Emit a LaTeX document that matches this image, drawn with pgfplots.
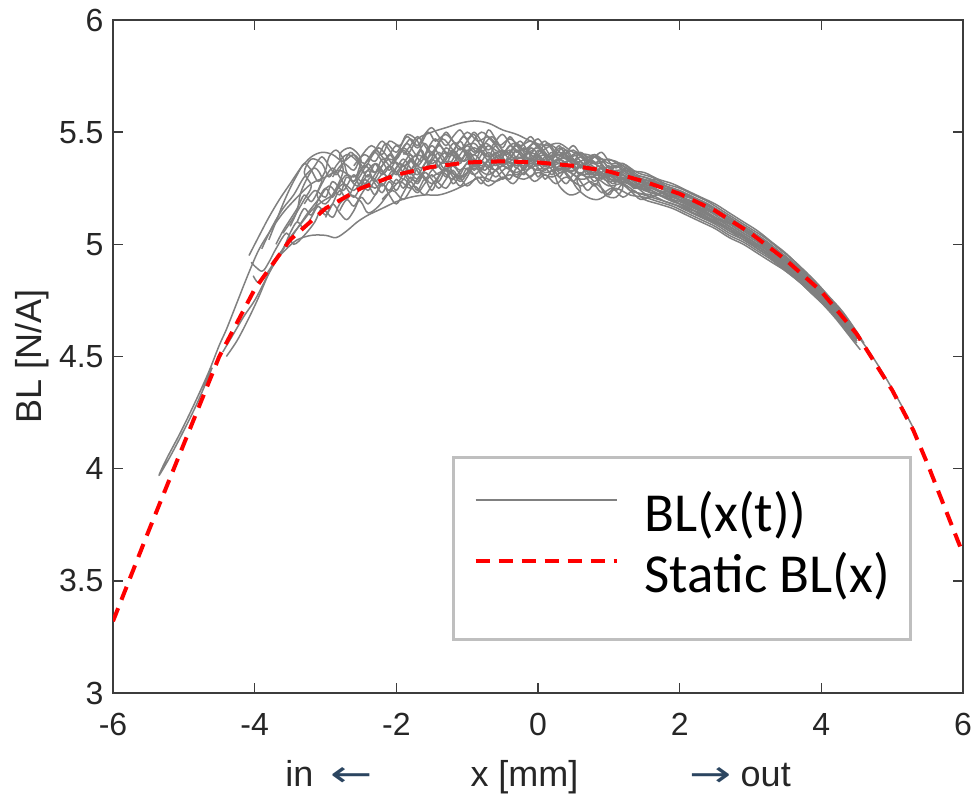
\documentclass[border=0pt]{standalone}
\usepackage{pgfplots}
\pgfplotsset{compat=1.18}
\usepackage{graphicx}
\usepackage{fontspec}
\setmainfont{Liberation Sans}
\newfontfamily\carlito{Carlito}
\newfontfamily\dejavu{DejaVu Sans}
\definecolor{arrowc}{HTML}{2B4560}
\definecolor{axc}{HTML}{3C3C3C}
\tikzset{gr/.style={color=black!50, line width=0.75pt, line join=round, smooth, tension=0.55}}
\newcommand{\arr}[1]{{\dejavu\color{arrowc}\scalebox{1.4}[1]{#1}}}

\begin{document}
\begin{tikzpicture}
\useasboundingbox (-56.5pt,-51pt) rectangle (429.5pt,346.5pt);
\begin{axis}[
  scale only axis,
  width=425pt, height=336.5pt,
  xmin=-6, xmax=6, ymin=3, ymax=6,
  xtick={-6,-4,...,6},
  ytick={3,3.5,...,6},
  tick align=inside,
  major tick length=5pt,
  axis line style={axc, line width=0.8pt},
  every tick/.style={axc, line width=0.8pt},
  /pgf/number format/assume math mode=true,
  tick label style={font=\fontsize{16}{18}\selectfont, text=black!85},
  xticklabel style={yshift=-6.7pt},
  yticklabel style={xshift=-1.2pt},
  xlabel={in\hspace{8.5pt}\arr{←}\hspace{49pt}x [mm]\hspace{55.5pt}\arr{→}\hspace{4.5pt}out},
  xlabel style={font=\fontsize{18}{20}\selectfont, text=black!85,
    at={(axis description cs:0.5,0)}, anchor=base, yshift=-47pt},
  ylabel={BL [N/A]},
  ylabel style={font=\fontsize{18}{20}\selectfont, text=black!85,
    at={(axis description cs:-0.0953,0.5)}, anchor=center},
  legend style={at={(rel axis cs:0.399,0.352)}, anchor=north west,
    draw=black!25, line width=1.5pt, fill=white,
    inner xsep=10pt, inner ysep=15pt,
    font=\carlito\fontsize{27.5}{30}\selectfont,
    column sep=13pt,
    nodes={inner sep=0pt, text height=22pt, text depth=8.5pt}},
  legend cell align=left,
  legend image code/.code={\draw[#1] (0pt,9pt) -- (70.5pt,9pt);},
]

% measured BL(x(t)) traces
\addplot[gr] coordinates {(-4.6,4.45)(-4.8,4.30)(-5.0,4.17)(-5.2,4.05)(-5.35,3.97)(-5.25,4.04)(-5.05,4.16)(-4.85,4.29)(-4.65,4.43)(-4.5,4.55)(-4.4,4.62)(-4.25,4.74)(-4.1,4.86)(-3.95,4.97)(-3.8,5.05)(-3.6,5.14)(-3.4,5.21)(-3.2,5.27)(-3.0,5.30)(-2.8,5.33)(-2.6,5.30)(-2.45,5.35)(-2.3,5.32)(-2.1,5.38)(-1.9,5.35)(-1.7,5.40)(-1.5,5.36)(-1.3,5.41)(-1.1,5.38)(-0.9,5.43)(-0.7,5.39)(-0.5,5.42)(-0.3,5.38)(-0.1,5.41)(0.1,5.37)(0.3,5.40)(0.5,5.36)(0.7,5.38)(0.9,5.34)(1.1,5.35)(1.3,5.31)(1.5,5.30)(1.7,5.27)(1.9,5.25)(2.1,5.22)(2.3,5.19)(2.5,5.16)(2.7,5.12)(2.9,5.08)(3.1,5.04)(3.3,4.99)(3.5,4.94)(3.7,4.89)(3.9,4.83)(4.1,4.76)(4.3,4.69)(4.5,4.60)(4.7,4.51)(4.9,4.41)(5.1,4.30)(5.3,4.18)};
\addlegendentry{BL(x(t))}
\addplot[gr, forget plot] coordinates {(-4.08,4.95)(-3.95,5.03)(-3.8,5.12)(-3.65,5.20)(-3.5,5.27)(-3.35,5.34)(-3.2,5.39)(-3.05,5.41)(-2.9,5.40)(-2.75,5.37)(-2.6,5.40)(-2.45,5.36)(-2.3,5.42)(-2.15,5.38)(-2.0,5.44)(-1.85,5.40)(-1.7,5.47)(-1.5,5.50)(-1.3,5.52)(-1.1,5.54)(-0.9,5.55)(-0.7,5.54)(-0.5,5.51)(-0.3,5.49)(-0.1,5.46)(0.1,5.44)(0.3,5.45)(0.5,5.41)(0.7,5.40)(0.9,5.38)(1.1,5.37)(1.3,5.33)(1.5,5.32)(1.7,5.29)(1.9,5.27)(2.1,5.24)(2.3,5.21)(2.5,5.18)(2.7,5.14)(2.9,5.10)(3.1,5.06)(3.3,5.01)(3.5,4.96)(3.7,4.90)(3.9,4.84)(4.1,4.77)(4.3,4.70)(4.5,4.61)(4.6,4.56)};
\addplot[gr, forget plot] coordinates {(-4.02,4.86)(-3.95,4.83)(-3.85,4.86)(-3.7,4.93)(-3.55,4.98)(-3.4,5.02)(-3.2,5.04)(-3.0,5.04)(-2.85,5.03)(-2.7,5.06)(-2.55,5.10)(-2.4,5.13)(-2.2,5.16)(-2.0,5.19)(-1.8,5.21)(-1.6,5.22)(-1.4,5.22)(-1.2,5.24)(-1.0,5.27)(-0.8,5.30)(-0.6,5.28)(-0.4,5.31)(-0.2,5.29)(0.0,5.32)(0.2,5.30)(0.4,5.33)(0.6,5.29)(0.8,5.30)(1.0,5.26)(1.2,5.27)(1.4,5.23)(1.6,5.22)(1.8,5.19)(2.0,5.17)(2.2,5.14)(2.4,5.11)(2.6,5.08)(2.8,5.04)(3.0,5.00)(3.2,4.96)(3.4,4.91)(3.6,4.86)(3.8,4.80)(4.0,4.74)(4.2,4.67)(4.4,4.59)(4.55,4.53)};
\addplot[gr, forget plot] coordinates {(-4.45,4.52)(-4.3,4.60)(-4.15,4.68)(-4.0,4.75)(-3.85,4.84)(-3.7,4.93)(-3.55,5.00)(-3.4,5.07)(-3.25,5.14)(-3.1,5.20)(-2.95,5.26)(-2.8,5.22)(-2.7,5.30)(-2.55,5.26)(-2.4,5.33)(-2.3,5.28)(-2.1,5.35)(-1.95,5.31)(-1.8,5.38)(-1.65,5.34)(-1.5,5.40)(-1.35,5.36)(-1.2,5.42)(-1.05,5.37)(-0.9,5.40)(-0.75,5.36)(-0.6,5.41)(-0.45,5.37)(-0.3,5.42)(-0.15,5.38)(0.0,5.40)(0.15,5.35)(0.3,5.38)(0.45,5.34)(0.6,5.37)(0.75,5.32)(0.9,5.34)(1.05,5.30)(1.2,5.31)(1.4,5.27)(1.6,5.26)(1.8,5.22)(2.0,5.21)(2.2,5.17)(2.4,5.15)(2.6,5.11)(2.8,5.08)(3.0,5.04)(3.2,5.00)(3.4,4.95)(3.6,4.90)(3.8,4.84)(4.0,4.78)(4.2,4.71)(4.4,4.63)(4.5,4.58)};
\addplot[gr, forget plot] coordinates {(-3.9,4.98)(-3.75,5.08)(-3.6,5.16)(-3.45,5.22)(-3.3,5.30)(-3.15,5.34)(-3.05,5.29)(-3.12,5.22)(-3.0,5.18)(-2.85,5.25)(-2.75,5.33)(-2.8,5.40)(-2.65,5.43)(-2.5,5.38)(-2.55,5.30)(-2.4,5.27)(-2.25,5.33)(-2.1,5.30)(-1.95,5.36)(-1.8,5.33)(-1.65,5.42)(-1.55,5.36)(-1.4,5.44)(-1.25,5.39)(-1.1,5.46)(-1.0,5.40)(-0.85,5.35)(-0.7,5.41)(-0.55,5.37)(-0.4,5.44)(-0.25,5.40)(-0.1,5.36)(0.05,5.41)(0.2,5.38)(0.35,5.43)(0.5,5.37)(0.65,5.35)(0.8,5.39)(0.95,5.33)(1.1,5.31)(1.25,5.34)(1.4,5.28)(1.6,5.27)(1.8,5.24)(2.0,5.21)(2.2,5.19)(2.4,5.15)(2.6,5.12)(2.8,5.07)(3.0,5.03)(3.2,4.99)(3.4,4.93)(3.6,4.88)(3.8,4.82)(4.0,4.76)(4.2,4.69)(4.4,4.61)(4.5,4.57)};
\addplot[gr, forget plot] coordinates {(-3.3,5.18)(-3.15,5.24)(-3.0,5.21)(-2.9,5.28)(-2.75,5.24)(-2.6,5.31)(-2.5,5.25)(-2.35,5.30)(-2.2,5.26)(-2.05,5.33)(-1.9,5.29)(-1.8,5.37)(-1.65,5.31)(-1.5,5.38)(-1.35,5.33)(-1.2,5.35)(-1.05,5.30)(-0.9,5.36)(-0.75,5.33)(-0.6,5.39)(-0.45,5.34)(-0.3,5.36)(-0.15,5.33)(0.0,5.38)(0.15,5.34)(0.3,5.36)(0.45,5.32)(0.6,5.35)(0.75,5.31)(0.9,5.32)(1.05,5.27)(1.2,5.30)(1.35,5.25)(1.5,5.26)(1.7,5.22)(1.9,5.21)(2.1,5.18)(2.3,5.15)(2.5,5.12)(2.7,5.09)(2.9,5.05)(3.1,5.01)(3.3,4.96)(3.5,4.92)(3.7,4.86)(3.9,4.80)(4.1,4.73)(4.3,4.66)(4.45,4.59)};
\addplot[gr, forget plot] coordinates {(-2.6,5.35)(-2.45,5.40)(-2.3,5.37)(-2.15,5.45)(-2.0,5.41)(-1.85,5.48)(-1.7,5.43)(-1.55,5.50)(-1.45,5.46)(-1.3,5.49)(-1.15,5.45)(-1.0,5.50)(-0.85,5.46)(-0.7,5.48)(-0.55,5.44)(-0.4,5.47)(-0.25,5.44)(-0.1,5.46)(0.05,5.42)(0.2,5.44)(0.35,5.40)(0.5,5.42)(0.65,5.38)(0.8,5.40)(1.0,5.36)(1.2,5.36)(1.4,5.32)(1.6,5.30)(1.8,5.27)(2.0,5.25)(2.2,5.22)(2.4,5.19)(2.6,5.15)(2.8,5.11)(3.0,5.07)(3.2,5.03)(3.4,4.98)(3.6,4.93)(3.8,4.87)(4.0,4.80)(4.2,4.73)(4.4,4.65)(4.55,4.58)};
\addplot[gr, forget plot] coordinates {(-2.2,5.20)(-2.05,5.24)(-1.9,5.20)(-1.75,5.26)(-1.6,5.22)(-1.45,5.28)(-1.3,5.25)(-1.15,5.31)(-1.0,5.26)(-0.85,5.30)(-0.7,5.26)(-0.5,5.30)(-0.35,5.27)(-0.2,5.32)(-0.05,5.28)(0.1,5.31)(0.25,5.27)(0.4,5.30)(0.6,5.26)(0.75,5.28)(0.9,5.23)(1.05,5.25)(1.2,5.21)(1.35,5.24)(1.5,5.20)(1.7,5.18)(1.9,5.16)(2.1,5.13)(2.3,5.10)(2.5,5.07)(2.7,5.03)(2.9,5.00)(3.1,4.96)(3.3,4.92)(3.5,4.88)(3.7,4.83)(3.9,4.78)(4.1,4.72)(4.3,4.65)(4.5,4.57)};
\addplot[gr, forget plot] coordinates {(-1.0,5.33)(-0.8,5.37)(-0.6,5.33)(-0.4,5.38)(-0.2,5.35)(0.0,5.39)(0.2,5.33)(0.3,5.26)(0.45,5.22)(0.6,5.24)(0.55,5.29)(0.7,5.33)(0.85,5.28)(0.95,5.22)(1.1,5.21)(1.2,5.26)(1.05,5.30)(1.25,5.33)(1.4,5.30)(1.55,5.27)(1.75,5.25)(1.95,5.22)(2.15,5.19)(2.35,5.17)(2.55,5.13)(2.75,5.10)(2.95,5.06)(3.15,5.02)(3.35,4.98)(3.55,4.93)(3.75,4.88)(3.95,4.82)(4.15,4.75)(4.35,4.67)(4.5,4.60)};
\addplot[gr, forget plot] coordinates {(-2.9,5.30)(-2.75,5.36)(-2.6,5.33)(-2.5,5.39)(-2.35,5.44)(-2.2,5.40)(-2.1,5.46)(-1.95,5.44)(-1.85,5.49)(-1.7,5.46)(-1.6,5.38)(-1.45,5.34)(-1.3,5.39)(-1.2,5.45)(-1.05,5.42)(-0.9,5.40)(-0.75,5.45)(-0.6,5.42)(-0.45,5.40)(-0.3,5.44)(-0.15,5.41)(0.0,5.43)(0.15,5.39)(0.3,5.41)(0.45,5.39)(0.6,5.40)(0.75,5.36)(0.9,5.37)(1.05,5.33)(1.2,5.33)(1.4,5.29)(1.6,5.28)(1.8,5.25)(2.0,5.22)(2.2,5.20)(2.4,5.16)(2.6,5.13)(2.8,5.09)(3.0,5.05)(3.2,5.00)(3.4,4.96)(3.6,4.90)(3.8,4.84)(4.0,4.78)(4.2,4.71)(4.4,4.63)(4.5,4.59)};
\addplot[gr, forget plot] coordinates {(-3.6,5.05)(-3.45,5.12)(-3.3,5.20)(-3.2,5.26)(-3.3,5.32)(-3.2,5.38)(-3.05,5.36)(-2.95,5.30)(-2.85,5.35)(-2.7,5.40)(-2.55,5.37)(-2.45,5.32)(-2.3,5.36)(-2.2,5.31)(-2.05,5.37)(-1.9,5.43)(-1.75,5.39)(-1.6,5.45)(-1.5,5.41)(-1.35,5.47)(-1.2,5.42)(-1.05,5.37)(-0.95,5.44)(-0.8,5.50)(-0.65,5.46)(-0.5,5.41)(-0.35,5.45)(-0.2,5.42)(-0.05,5.45)(0.1,5.40)(0.25,5.37)(0.4,5.39)(0.55,5.34)(0.7,5.37)(0.85,5.35)(1.0,5.31)(1.2,5.32)(1.4,5.27)(1.6,5.25)(1.8,5.23)(2.0,5.20)(2.2,5.17)(2.4,5.14)(2.6,5.10)(2.8,5.06)(3.0,5.02)(3.2,4.97)(3.4,4.94)(3.6,4.89)(3.8,4.83)(4.0,4.77)(4.2,4.70)(4.4,4.62)};
\addplot[gr, forget plot] coordinates {(-4.05,4.92)(-3.9,4.88)(-3.8,4.92)(-3.7,4.98)(-3.55,5.05)(-3.45,5.00)(-3.3,5.04)(-3.15,5.10)(-3.05,5.16)(-2.9,5.12)(-2.8,5.18)(-2.65,5.22)(-2.5,5.19)(-2.4,5.14)(-2.25,5.17)(-2.1,5.23)(-1.95,5.28)(-1.8,5.25)(-1.65,5.31)(-1.5,5.27)(-1.35,5.32)(-1.2,5.29)(-1.05,5.34)(-0.9,5.31)(-0.75,5.35)(-0.6,5.30)(-0.45,5.34)(-0.3,5.31)(-0.15,5.35)(0.0,5.33)(0.15,5.36)(0.3,5.33)(0.45,5.35)(0.6,5.31)(0.8,5.32)(1.0,5.29)(1.2,5.28)(1.4,5.25)(1.6,5.24)(1.8,5.21)(2.0,5.19)(2.2,5.16)(2.4,5.13)(2.6,5.09)(2.8,5.05)(3.0,5.02)(3.2,4.98)(3.4,4.93)(3.6,4.87)(3.8,4.81)(4.0,4.75)(4.2,4.68)(4.4,4.60)(4.5,4.56)};
\addplot[gr, forget plot] coordinates {(-4.4,4.50)(-4.25,4.57)(-4.1,4.66)(-3.95,4.76)(-3.8,4.87)(-3.65,4.95)(-3.5,5.03)(-3.35,5.09)(-3.2,5.15)(-3.05,5.19)(-2.9,5.22)(-2.75,5.27)(-2.6,5.24)(-2.45,5.29)(-2.3,5.25)(-2.15,5.30)(-2.0,5.27)(-1.85,5.33)(-1.7,5.29)(-1.55,5.35)(-1.4,5.31)(-1.25,5.37)(-1.1,5.33)(-0.95,5.38)(-0.8,5.35)(-0.6,5.40)(-0.45,5.36)(-0.3,5.39)(-0.1,5.37)(0.1,5.40)(0.3,5.36)(0.5,5.38)(0.7,5.33)(0.9,5.35)(1.1,5.30)(1.3,5.29)(1.5,5.27)(1.7,5.24)(1.9,5.23)(2.1,5.20)(2.3,5.17)(2.5,5.14)(2.7,5.11)(2.9,5.07)(3.1,5.03)(3.3,4.98)(3.5,4.92)(3.7,4.87)(3.9,4.81)(4.1,4.74)(4.3,4.67)(4.5,4.58)};
\addplot[gr, forget plot] coordinates {(-3.4,5.10)(-3.3,5.16)(-3.2,5.13)(-3.1,5.20)(-3.0,5.25)(-2.9,5.21)(-2.8,5.27)(-2.7,5.31)(-2.6,5.28)(-2.5,5.33)(-2.4,5.30)(-2.3,5.36)(-2.2,5.33)(-2.1,5.29)(-2.0,5.34)(-1.9,5.38)(-1.8,5.34)(-1.7,5.31)(-1.6,5.36)(-1.5,5.41)(-1.4,5.37)(-1.3,5.33)(-1.2,5.38)(-1.1,5.43)(-1.0,5.39)(-0.9,5.35)(-0.8,5.40)(-0.7,5.44)(-0.6,5.40)(-0.5,5.36)(-0.4,5.40)(-0.3,5.45)(-0.2,5.41)(-0.1,5.37)(0.0,5.42)(0.1,5.39)(0.2,5.35)(0.3,5.39)(0.4,5.42)(0.5,5.38)(0.6,5.34)(0.7,5.37)(0.8,5.40)(0.9,5.36)(1.0,5.32)(1.1,5.35)(1.2,5.33)(1.4,5.29)(1.6,5.27)(1.8,5.24)(2.0,5.22)(2.2,5.18)(2.4,5.16)(2.6,5.12)(2.8,5.08)(3.0,5.04)(3.2,5.00)(3.4,4.95)(3.6,4.89)(3.8,4.84)(4.0,4.77)(4.2,4.70)(4.45,4.60)};
\addplot[gr, forget plot] coordinates {(-2.8,5.15)(-2.7,5.20)(-2.6,5.17)(-2.5,5.22)(-2.4,5.26)(-2.3,5.22)(-2.2,5.27)(-2.1,5.24)(-2.0,5.29)(-1.9,5.25)(-1.8,5.30)(-1.7,5.27)(-1.6,5.32)(-1.5,5.29)(-1.4,5.25)(-1.3,5.29)(-1.2,5.33)(-1.1,5.29)(-1.0,5.34)(-0.9,5.31)(-0.8,5.27)(-0.7,5.32)(-0.6,5.36)(-0.5,5.32)(-0.4,5.29)(-0.3,5.34)(-0.2,5.31)(-0.1,5.35)(0.0,5.30)(0.1,5.34)(0.2,5.31)(0.3,5.35)(0.4,5.31)(0.5,5.28)(0.6,5.32)(0.7,5.29)(0.8,5.26)(0.9,5.30)(1.0,5.27)(1.1,5.24)(1.2,5.27)(1.3,5.24)(1.5,5.22)(1.7,5.20)(1.9,5.18)(2.1,5.15)(2.3,5.12)(2.5,5.09)(2.7,5.05)(2.9,5.02)(3.1,4.98)(3.3,4.94)(3.5,4.89)(3.7,4.85)(3.9,4.79)(4.1,4.73)(4.3,4.66)(4.5,4.58)};
\addplot[gr, forget plot] coordinates {(-2.4,5.37)(-2.3,5.42)(-2.2,5.46)(-2.1,5.42)(-2.0,5.38)(-1.9,5.43)(-1.8,5.47)(-1.7,5.44)(-1.6,5.49)(-1.5,5.52)(-1.4,5.48)(-1.3,5.44)(-1.2,5.48)(-1.1,5.51)(-1.0,5.47)(-0.9,5.50)(-0.8,5.46)(-0.7,5.42)(-0.6,5.46)(-0.5,5.49)(-0.4,5.45)(-0.3,5.41)(-0.2,5.45)(-0.1,5.48)(0.0,5.44)(0.1,5.46)(0.2,5.42)(0.3,5.38)(0.4,5.41)(0.5,5.44)(0.6,5.40)(0.7,5.37)(0.8,5.39)(0.9,5.41)(1.0,5.37)(1.1,5.34)(1.2,5.36)(1.4,5.31)(1.6,5.29)(1.8,5.26)(2.0,5.24)(2.2,5.21)(2.4,5.18)(2.6,5.14)(2.8,5.10)(3.0,5.06)(3.2,5.02)(3.4,4.97)(3.6,4.92)(3.8,4.86)(4.0,4.79)(4.2,4.72)(4.4,4.64)};
\addplot[gr, forget plot] coordinates {(-2.0,5.32)(-1.9,5.36)(-1.8,5.40)(-1.75,5.35)(-1.85,5.31)(-1.7,5.28)(-1.6,5.33)(-1.5,5.37)(-1.4,5.41)(-1.3,5.37)(-1.2,5.32)(-1.1,5.28)(-1.0,5.32)(-0.95,5.38)(-1.05,5.43)(-0.9,5.45)(-0.8,5.41)(-0.7,5.37)(-0.6,5.33)(-0.5,5.38)(-0.4,5.34)(-0.3,5.30)(-0.2,5.35)(-0.1,5.40)(0.0,5.44)(0.1,5.41)(0.2,5.37)(0.3,5.33)(0.4,5.36)(0.5,5.40)(0.6,5.37)(0.7,5.32)(0.8,5.28)(0.9,5.32)(1.0,5.35)(1.1,5.31)(1.2,5.28)(1.3,5.31)(1.4,5.27)(1.6,5.25)(1.8,5.22)(2.0,5.20)(2.2,5.17)(2.4,5.13)(2.6,5.10)(2.8,5.06)(3.0,5.01)(3.2,4.97)(3.4,4.92)(3.6,4.88)(3.8,4.82)(4.0,4.76)(4.2,4.69)(4.4,4.61)};
\addplot[gr, forget plot] coordinates {(-3.7,5.00)(-3.6,5.06)(-3.5,5.11)(-3.4,5.16)(-3.3,5.22)(-3.2,5.19)(-3.1,5.24)(-3.0,5.30)(-2.9,5.34)(-2.8,5.30)(-2.7,5.25)(-2.6,5.21)(-2.5,5.26)(-2.4,5.31)(-2.3,5.27)(-2.2,5.23)(-2.1,5.28)(-2.0,5.24)(-1.9,5.29)(-1.8,5.26)(-1.7,5.23)(-1.6,5.27)(-1.5,5.31)(-1.4,5.28)(-1.3,5.33)(-1.2,5.27)(-1.1,5.31)(-1.0,5.36)(-0.9,5.33)(-0.8,5.37)(-0.7,5.34)(-0.6,5.38)(-0.5,5.35)(-0.4,5.37)(-0.3,5.34)(-0.2,5.38)(-0.1,5.34)(0.0,5.36)(0.1,5.33)(0.2,5.36)(0.3,5.32)(0.5,5.33)(0.7,5.30)(0.9,5.31)(1.1,5.28)(1.3,5.27)(1.5,5.24)(1.7,5.22)(1.9,5.19)(2.1,5.17)(2.3,5.13)(2.5,5.10)(2.7,5.07)(2.9,5.03)(3.1,4.99)(3.3,4.95)(3.5,4.90)(3.7,4.85)(3.9,4.79)(4.1,4.73)(4.3,4.65)(4.5,4.57)};
\addplot[gr, forget plot] coordinates {(-3.5,5.08)(-3.4,5.15)(-3.35,5.23)(-3.25,5.30)(-3.15,5.35)(-3.05,5.39)(-2.95,5.35)(-2.85,5.31)(-2.75,5.36)(-2.65,5.41)(-2.55,5.38)(-2.45,5.34)(-2.35,5.39)(-2.25,5.43)(-2.15,5.40)(-2.05,5.36)(-1.95,5.41)(-1.85,5.45)(-1.75,5.41)(-1.65,5.37)(-1.55,5.43)(-1.45,5.47)(-1.35,5.43)(-1.25,5.40)(-1.15,5.44)(-1.05,5.48)(-0.95,5.44)(-0.85,5.41)(-0.75,5.45)(-0.65,5.48)(-0.55,5.44)(-0.45,5.40)(-0.35,5.43)(-0.25,5.46)(-0.15,5.42)(-0.05,5.39)(0.05,5.43)(0.15,5.45)(0.25,5.41)(0.4,5.38)(0.55,5.41)(0.7,5.39)(0.85,5.36)(1.0,5.38)(1.2,5.34)(1.4,5.30)(1.6,5.28)(1.8,5.25)(2.0,5.23)(2.2,5.20)(2.4,5.17)(2.6,5.13)(2.8,5.09)(3.0,5.05)(3.2,5.01)(3.4,4.96)(3.6,4.91)(3.8,4.85)(4.0,4.79)(4.2,4.72)(4.4,4.64)(4.55,4.57)};
\addplot[gr, forget plot] coordinates {(-1.5,5.30)(-1.3,5.33)(-1.1,5.30)(-0.9,5.34)(-0.7,5.31)(-0.5,5.35)(-0.3,5.32)(-0.1,5.36)(0.1,5.32)(0.3,5.34)(0.45,5.30)(0.55,5.25)(0.7,5.21)(0.85,5.20)(1.0,5.23)(1.1,5.27)(1.0,5.30)(1.15,5.32)(1.3,5.28)(1.45,5.24)(1.6,5.21)(1.75,5.23)(1.9,5.20)(2.1,5.16)(2.3,5.14)(2.5,5.10)(2.7,5.06)(2.9,5.03)(3.1,4.98)(3.3,4.94)(3.5,4.89)(3.7,4.84)(3.9,4.78)(4.1,4.72)(4.3,4.64)(4.45,4.58)};
\addplot[gr, forget plot] coordinates {(-3.0,5.12)(-2.9,5.18)(-2.8,5.24)(-2.7,5.20)(-2.6,5.26)(-2.5,5.31)(-2.4,5.36)(-2.3,5.32)(-2.2,5.38)(-2.1,5.35)(-2.0,5.31)(-1.9,5.35)(-1.8,5.31)(-1.7,5.36)(-1.6,5.40)(-1.5,5.34)(-1.4,5.38)(-1.3,5.43)(-1.2,5.40)(-1.1,5.36)(-1.0,5.42)(-0.9,5.38)(-0.8,5.33)(-0.7,5.38)(-0.6,5.35)(-0.5,5.39)(-0.4,5.42)(-0.3,5.38)(-0.2,5.33)(-0.1,5.38)(0.0,5.35)(0.1,5.38)(0.2,5.41)(0.3,5.37)(0.4,5.33)(0.5,5.36)(0.6,5.39)(0.7,5.35)(0.8,5.31)(0.9,5.34)(1.0,5.30)(1.1,5.33)(1.2,5.29)(1.35,5.26)(1.5,5.28)(1.7,5.24)(1.9,5.21)(2.1,5.19)(2.3,5.16)(2.5,5.12)(2.7,5.08)(2.9,5.04)(3.1,5.00)(3.3,4.96)(3.5,4.91)(3.7,4.86)(3.9,4.80)(4.1,4.74)(4.3,4.67)(4.5,4.59)};
\addplot[gr, forget plot] coordinates {(-2.5,5.28)(-2.4,5.24)(-2.3,5.29)(-2.2,5.35)(-2.1,5.40)(-2.0,5.36)(-1.9,5.32)(-1.8,5.28)(-1.7,5.34)(-1.6,5.29)(-1.5,5.33)(-1.4,5.35)(-1.3,5.30)(-1.2,5.36)(-1.1,5.40)(-1.0,5.44)(-0.9,5.41)(-0.8,5.44)(-0.7,5.40)(-0.6,5.36)(-0.5,5.41)(-0.4,5.38)(-0.3,5.42)(-0.2,5.38)(-0.1,5.43)(0.0,5.40)(0.1,5.36)(0.2,5.40)(0.3,5.44)(0.4,5.39)(0.5,5.35)(0.6,5.31)(0.7,5.35)(0.8,5.33)(0.9,5.29)(1.0,5.33)(1.1,5.29)(1.2,5.31)(1.3,5.28)(1.5,5.25)(1.7,5.26)(1.9,5.22)(2.1,5.20)(2.3,5.16)(2.5,5.14)(2.7,5.10)(2.9,5.06)(3.1,5.02)(3.3,4.97)(3.5,4.92)(3.7,4.87)(3.9,4.81)(4.1,4.75)(4.3,4.68)(4.5,4.60)};
\addplot[gr, forget plot] coordinates {(-3.8,5.02)(-3.7,5.10)(-3.6,5.18)(-3.5,5.25)(-3.4,5.31)(-3.3,5.36)(-3.2,5.33)(-3.1,5.28)(-3.0,5.33)(-2.95,5.39)(-2.85,5.42)(-2.75,5.38)(-2.7,5.32)(-2.6,5.28)(-2.5,5.33)(-2.4,5.38)(-2.3,5.41)(-2.2,5.37)(-2.1,5.33)(-2.0,5.38)(-1.9,5.42)(-1.8,5.38)(-1.7,5.35)(-1.6,5.39)(-1.5,5.44)(-1.4,5.40)(-1.3,5.36)(-1.2,5.41)(-1.1,5.37)(-1.0,5.41)(-0.9,5.37)(-0.8,5.42)(-0.7,5.39)(-0.6,5.44)(-0.5,5.39)(-0.4,5.35)(-0.3,5.39)(-0.2,5.43)(-0.1,5.39)(0.0,5.35)(0.1,5.39)(0.2,5.35)(0.3,5.30)(0.4,5.34)(0.5,5.31)(0.6,5.35)(0.7,5.31)(0.8,5.34)(0.9,5.30)(1.0,5.28)(1.2,5.29)(1.4,5.26)(1.6,5.23)(1.8,5.21)(2.0,5.18)(2.2,5.15)(2.4,5.12)(2.6,5.09)(2.8,5.05)(3.0,5.01)(3.2,4.97)(3.4,4.92)(3.6,4.87)(3.8,4.82)(4.0,4.75)(4.2,4.68)(4.4,4.60)};
\addplot[gr, forget plot] coordinates {(-3.75,4.92)(-3.6,4.98)(-3.5,5.05)(-3.4,5.10)(-3.3,5.07)(-3.2,5.12)(-3.1,5.17)(-3.0,5.13)(-2.9,5.18)(-2.8,5.14)(-2.7,5.11)(-2.6,5.15)(-2.5,5.21)(-2.4,5.18)(-2.3,5.22)(-2.2,5.27)(-2.1,5.22)(-2.0,5.18)(-1.9,5.23)(-1.8,5.28)(-1.7,5.24)(-1.6,5.29)(-1.5,5.24)(-1.4,5.30)(-1.3,5.34)(-1.2,5.30)(-1.1,5.26)(-1.0,5.30)(-0.9,5.35)(-0.8,5.31)(-0.7,5.28)(-0.6,5.33)(-0.5,5.29)(-0.4,5.33)(-0.3,5.37)(-0.2,5.33)(-0.1,5.30)(0.0,5.34)(0.1,5.29)(0.2,5.33)(0.3,5.30)(0.4,5.27)(0.5,5.31)(0.6,5.28)(0.7,5.24)(0.8,5.27)(0.9,5.25)(1.0,5.22)(1.1,5.25)(1.3,5.22)(1.5,5.21)(1.7,5.19)(1.9,5.17)(2.1,5.14)(2.3,5.11)(2.5,5.08)(2.7,5.04)(2.9,5.01)(3.1,4.97)(3.3,4.93)(3.5,4.88)(3.7,4.83)(3.9,4.77)(4.1,4.71)(4.3,4.64)(4.45,4.57)};
\addplot[gr, forget plot] coordinates {(-1.9,5.40)(-1.8,5.44)(-1.7,5.48)(-1.6,5.44)(-1.5,5.40)(-1.4,5.45)(-1.3,5.50)(-1.2,5.46)(-1.1,5.42)(-1.0,5.46)(-0.9,5.49)(-0.8,5.44)(-0.7,5.51)(-0.6,5.47)(-0.5,5.43)(-0.4,5.48)(-0.3,5.44)(-0.2,5.40)(-0.1,5.44)(0.0,5.47)(0.1,5.43)(0.2,5.39)(0.3,5.43)(0.4,5.40)(0.5,5.37)(0.6,5.41)(0.7,5.38)(0.8,5.36)(0.9,5.38)(1.0,5.34)(1.2,5.35)(1.4,5.30)(1.6,5.28)(1.8,5.26)(2.0,5.23)(2.2,5.20)(2.4,5.17)(2.6,5.14)(2.8,5.10)(3.0,5.06)(3.2,5.01)(3.4,4.96)(3.6,4.91)(3.8,4.85)(4.0,4.78)(4.2,4.71)(4.4,4.63)(4.5,4.59)};
\addplot[gr, forget plot] coordinates {(-0.5,5.38)(-0.3,5.35)(-0.1,5.38)(0.1,5.35)(0.3,5.38)(0.5,5.34)(0.7,5.36)(0.9,5.32)(1.1,5.29)(1.3,5.24)(1.45,5.20)(1.6,5.22)(1.5,5.26)(1.65,5.29)(1.8,5.26)(1.95,5.23)(2.1,5.20)(2.3,5.18)(2.5,5.14)(2.7,5.11)(2.9,5.07)(3.1,5.03)(3.3,4.99)(3.5,4.94)(3.7,4.89)(3.9,4.83)(4.1,4.76)(4.3,4.69)(4.5,4.61)};

% static BL(x)
\addplot[red, line width=2pt, dash pattern=on 7pt off 4.5pt] coordinates {(-6,3.32)(-5.5,3.72)(-5,4.11)(-4.5,4.50)(-4,4.80)(-3.5,5.02)(-3,5.16)(-2.5,5.25)(-2,5.31)(-1.5,5.345)(-1,5.365)(-0.5,5.37)(0,5.365)(0.5,5.35)(1,5.325)(1.5,5.28)(2,5.225)(2.5,5.15)(3,5.05)(3.5,4.93)(4,4.79)(4.5,4.60)(5,4.35)(5.3,4.17)(5.5,4.02)(6,3.62)};
\addlegendentry{Static BL(x)}
\end{axis}
\end{tikzpicture}
\end{document}
